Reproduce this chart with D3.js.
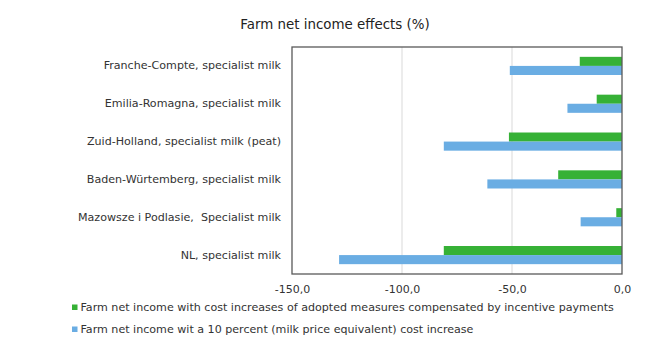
<!DOCTYPE html>
<html><head><meta charset="utf-8">
<script src="https://cdn.jsdelivr.net/npm/d3@7"></script>
<style>body{margin:0;background:#fff;} text{font-family:"DejaVu Sans",Verdana,sans-serif;}</style>
</head><body><svg id="c" width="650" height="345"></svg>
<script>
const categories = ["Franche-Compte, specialist milk","Emilia-Romagna, specialist milk","Zuid-Holland, specialist milk (peat)","Baden-Würtemberg, specialist milk","Mazowsze i Podlasie,  Specialist milk","NL, specialist milk"];
const compensated = [-19.2,-11.5,-51.4,-29.0,-2.6,-81.0];
const costIncrease = [-51.0,-24.8,-81.0,-61.2,-18.8,-128.6];
const seriesNames = ["Farm net income with cost increases of adopted measures compensated by incentive payments","Farm net income wit a 10 percent (milk price equivalent) cost increase"];
const tickValues = [-150,-100,-50,0];
const colors = ["#36b136","#6aade3"];

const svg = d3.select("#c");
const L=292,R=622,T=47,B=274;
const x = d3.scaleLinear().domain([-150,0]).range([L,R]);
const y = d3.scaleBand().domain(categories).range([T,B]).paddingInner(0.52).paddingOuter(0.26);

svg.append("text").attr("x",335).attr("y",29).attr("text-anchor","middle").attr("font-size",13.4).attr("fill","#222").text("Farm net income effects (%)");

svg.selectAll(".grid").data(tickValues.slice(1,3)).enter().append("line")
  .attr("x1",d=>x(d)).attr("x2",d=>x(d)).attr("y1",T).attr("y2",B).attr("stroke","#d9d9d9").attr("stroke-width",1);

const sub = d3.scaleBand().domain([0,1]).range([0,y.bandwidth()]);
const data = categories.map((c,i)=>({c,vals:[compensated[i],costIncrease[i]]}));
const g = svg.selectAll(".cat").data(data).enter().append("g").attr("transform",d=>`translate(0,${y(d.c)})`);
g.selectAll("rect").data(d=>d.vals.map((v,k)=>({v,k}))).enter().append("rect")
  .attr("x",d=>x(d.v)).attr("width",d=>x(0)-x(d.v)).attr("y",d=>sub(d.k)).attr("height",sub.bandwidth())
  .attr("fill",d=>colors[d.k]);

svg.append("rect").attr("x",L).attr("y",T).attr("width",R-L).attr("height",B-T).attr("fill","none").attr("stroke","#595959").attr("stroke-width",1.3);

const fmt = d=>d3.format(".1f")(d).replace("−","-").replace(".",",");
const xa = svg.append("g").attr("transform",`translate(0,${B})`).call(d3.axisBottom(x).tickValues(tickValues).tickSize(0).tickPadding(11).tickFormat(fmt));
xa.select(".domain").remove();
xa.selectAll("text").attr("font-size",11).attr("fill","#333").style("font-family","DejaVu Sans");

const ya = svg.append("g").attr("transform",`translate(${L-11},0)`).call(d3.axisLeft(y).tickSize(0).tickPadding(0));
ya.select(".domain").remove();
ya.selectAll("text").attr("font-size",11.1).attr("fill","#333").style("font-family","DejaVu Sans").style("white-space","pre");

const lg = svg.selectAll(".lg").data(seriesNames).enter().append("g").attr("transform",(d,i)=>`translate(72,${307+i*22})`);
lg.append("rect").attr("x",0).attr("y",-2.5).attr("width",5.5).attr("height",5.5).attr("fill",(d,i)=>colors[i]);
lg.append("text").attr("x",8.5).attr("y",0).attr("dy","0.35em").attr("font-size",11.1).attr("fill","#333").text(d=>d);
</script></body></html>
